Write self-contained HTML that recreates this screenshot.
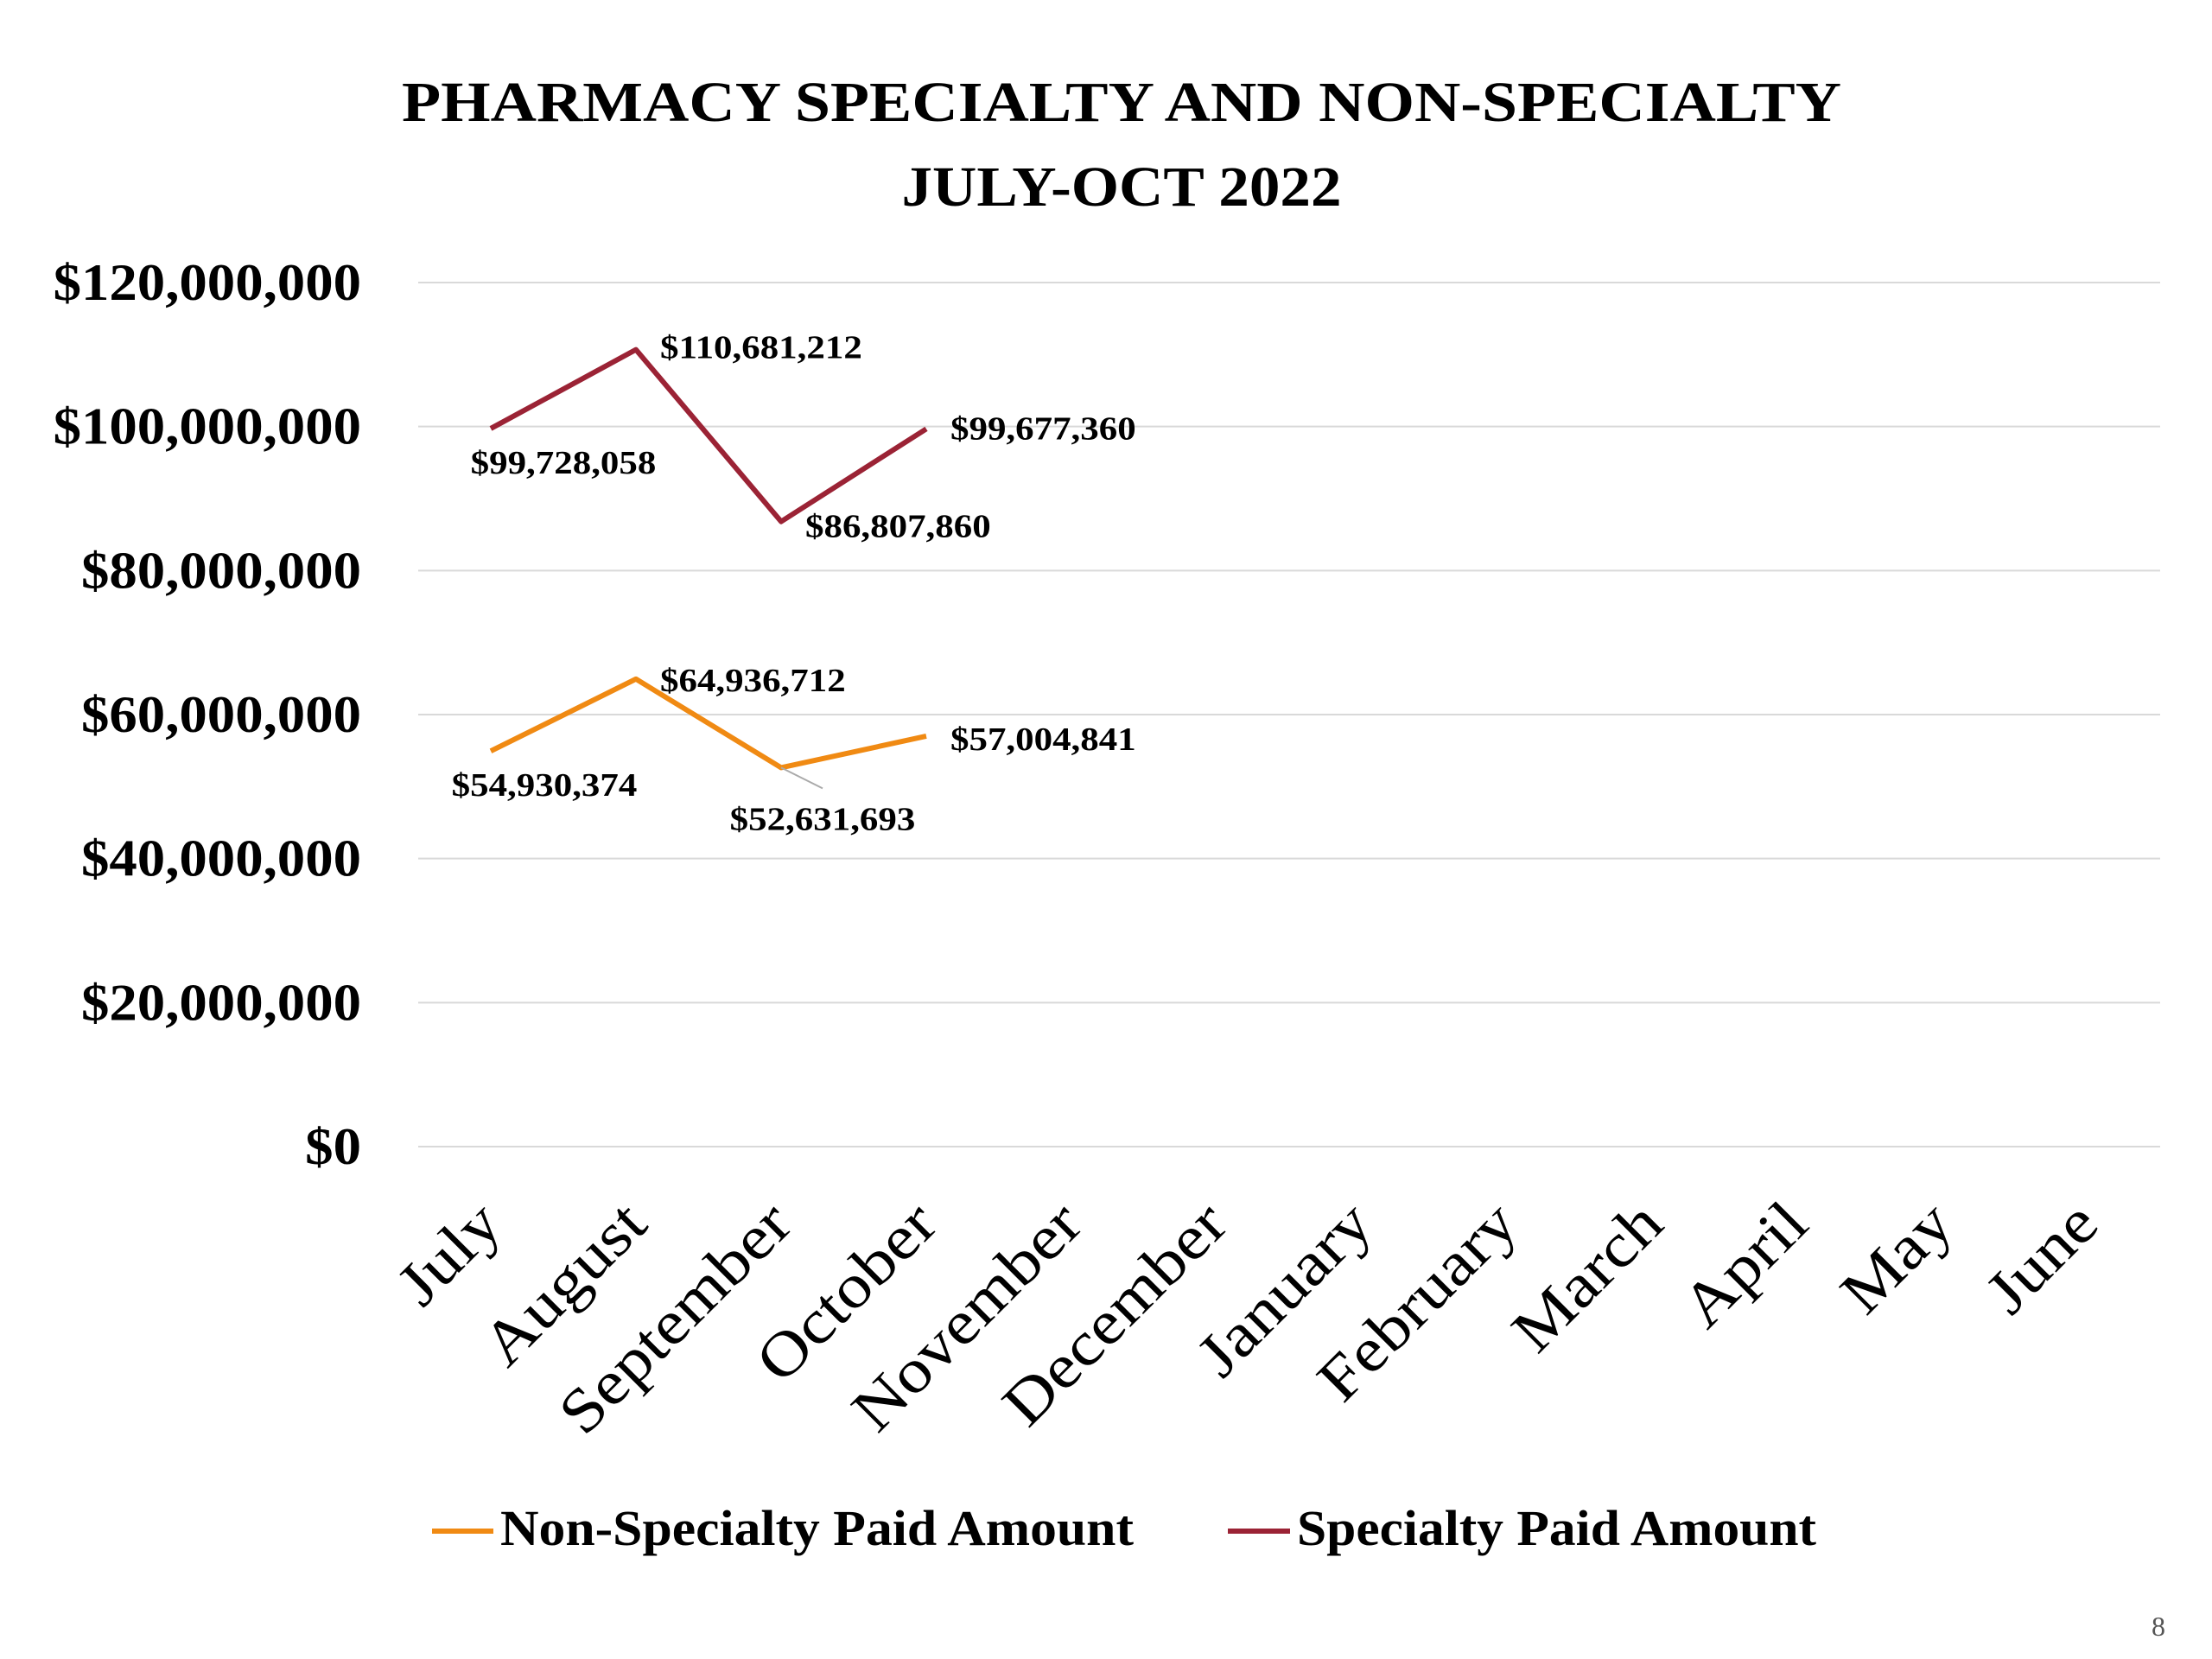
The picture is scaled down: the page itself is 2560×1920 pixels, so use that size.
<!DOCTYPE html>
<html><head><meta charset="utf-8"><style>
html,body{margin:0;padding:0;background:#fff;}
svg{display:block;font-family:"Liberation Serif",serif;}
</style></head><body>
<svg id="chart" width="2560" height="1920" viewBox="0 0 2560 1920" xmlns="http://www.w3.org/2000/svg">
<text x="1298" y="140" text-anchor="middle" font-size="66" font-weight="bold" textLength="1666" lengthAdjust="spacingAndGlyphs">PHARMACY SPECIALTY AND NON-SPECIALTY</text>
<text x="1298" y="238" text-anchor="middle" font-size="66" font-weight="bold" textLength="509" lengthAdjust="spacingAndGlyphs">JULY-OCT 2022</text>
<g id="grid"></g><g id="ylabels"></g><g id="xlabels"></g><g id="series"></g><g id="dlabels"></g>
<g>
<line x1="500" y1="1772" x2="571" y2="1772" stroke="#F08A13" stroke-width="6"/>
<text x="579" y="1788" font-size="58" font-weight="bold" textLength="733" lengthAdjust="spacingAndGlyphs">Non-Specialty Paid Amount</text>
<line x1="1421" y1="1772" x2="1493" y2="1772" stroke="#9B2335" stroke-width="6"/>
<text x="1501" y="1788" font-size="58" font-weight="bold" textLength="601" lengthAdjust="spacingAndGlyphs">Specialty Paid Amount</text>
</g>
<text x="2490" y="1893" font-size="32" fill="#555">8</text>
</svg>
<script>
const categories=["July","August","September","October","November","December","January","February","March","April","May","June"];
const specialty=[99728058,110681212,86807860,99677360];
const nonSpecialty=[54930374,64936712,52631693,57004841];
const yTicks=[0,20000000,40000000,60000000,80000000,100000000,120000000];
const NS="http://www.w3.org/2000/svg";
const L=484,R=2500,T=327,B=1327,yMax=120000000;
const bw=(R-L)/categories.length;
const x=i=>L+bw*(i+0.5);
const y=v=>B-(v/yMax)*(B-T);
const fmt=v=>"$"+v.toLocaleString("en-US");
function mk(tag,attrs,parent){const e=document.createElementNS(NS,tag);for(const k in attrs)e.setAttribute(k,attrs[k]);document.getElementById(parent).appendChild(e);return e;}
function widen(e,f){const w=e.getComputedTextLength();e.setAttribute("textLength",w*f);e.setAttribute("lengthAdjust","spacingAndGlyphs");}
yTicks.forEach(t=>{
 const g=mk("line",{x1:L,x2:R,y1:y(t),y2:y(t),stroke:"#d9d9d9","stroke-width":2},"grid");
 
 
 const tx=mk("text",{x:418,y:y(t)+20,"text-anchor":"end","font-size":60,"font-weight":"bold"},"ylabels");
 tx.textContent=fmt(t);
 
 
 widen(tx,1.08);
});
categories.forEach((c,i)=>{
 const ax=x(i)+16,ay=1420;
 const tx=mk("text",{x:ax,y:ay,"text-anchor":"end","font-size":72,transform:`rotate(-45 ${ax} ${ay})`},"xlabels");
 tx.textContent=c;
 
 
 widen(tx,1.12);
});
function series(vals,color,name){
 const p=mk("polyline",{points:vals.map((v,i)=>x(i)+","+y(v)).join(" "),fill:"none",stroke:color,"stroke-width":6,"stroke-linejoin":"round"},"series");
 
 
}
series(nonSpecialty,"#F08A13","non-specialty-line");
series(specialty,"#9B2335","specialty-line");
const specOff=[[84,52,"middle"],[28,10,"start"],[28,18,"start"],[28,12,"start"]];
const nonOff=[[62,52,"middle"],[28,14,"start"],[48,72,"middle"],[28,16,"start"]];
function labels(vals,offs,name){
 vals.forEach((v,i)=>{
  const o=offs[i];
  const tx=mk("text",{x:x(i)+o[0],y:y(v)+o[1],"text-anchor":o[2],"font-size":38,"font-weight":"bold"},"dlabels");
  tx.textContent=fmt(v);
  
  
  widen(tx,1.13);
 });
}
labels(specialty,specOff,"specialty-data-label");
labels(nonSpecialty,nonOff,"non-specialty-data-label");
const ll=mk("line",{x1:x(2),y1:y(nonSpecialty[2]),x2:x(2)+48,y2:y(nonSpecialty[2])+24,stroke:"#aaa","stroke-width":2},"dlabels");


</script>
</body></html>
